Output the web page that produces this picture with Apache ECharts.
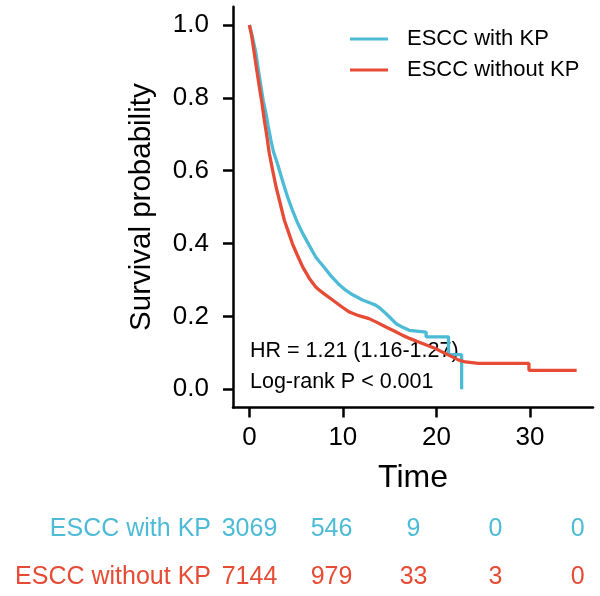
<!DOCTYPE html>
<html>
<head>
<meta charset="utf-8">
<script src="https://cdn.jsdelivr.net/npm/echarts@6/dist/echarts.min.js"></script>
<style>
html,body{margin:0;padding:0;background:#fff;}
#chart{width:600px;height:596px;}
</style>
</head>
<body>
<div id="chart"></div>
<script>
// ---- data ----
const groups = ['ESCC with KP', 'ESCC without KP'];
const groupColors = ['#4DBBD5', '#E64B35'];

const withTime = [0, 0.3, 0.71, 1.0, 1.25, 1.5, 1.78, 2.0, 2.3, 2.6, 3.0, 3.4, 3.74, 4.1, 4.6, 5.1, 5.7, 6.4, 7.1, 7.5, 8.0, 8.7, 9.5, 10.3, 11.0, 12.1, 13.0, 13.5, 14.0, 14.6, 15.2, 15.7, 16.4, 17.1, 18.9, 18.9, 21.3, 21.3, 22.7, 22.7];
const withSurv = [1.0, 0.97, 0.922, 0.87, 0.83, 0.79, 0.757, 0.725, 0.684, 0.65, 0.62, 0.585, 0.556, 0.527, 0.492, 0.46, 0.428, 0.395, 0.363, 0.35, 0.335, 0.312, 0.29, 0.272, 0.26, 0.245, 0.236, 0.231, 0.222, 0.208, 0.193, 0.18, 0.17, 0.162, 0.157, 0.144, 0.144, 0.095, 0.095, 0.0];

const withoutTime = [0, 0.25, 0.53, 0.8, 1.07, 1.35, 1.6, 1.9, 2.13, 2.5, 2.85, 3.3, 3.74, 4.2, 4.6, 5.1, 5.7, 6.4, 7.1, 7.5, 8.0, 8.9, 9.8, 10.7, 11.7, 12.8, 13.7, 14.6, 15.5, 16.4, 17.2, 18.1, 19.0, 19.9, 20.8, 21.7, 22.4, 23.1, 24.5, 29.9, 29.9, 35.0];
const withoutSurv = [1.0, 0.97, 0.922, 0.875, 0.83, 0.785, 0.739, 0.69, 0.648, 0.6, 0.556, 0.51, 0.464, 0.43, 0.4, 0.37, 0.336, 0.305, 0.281, 0.272, 0.262, 0.245, 0.228, 0.212, 0.202, 0.194, 0.183, 0.171, 0.16, 0.148, 0.139, 0.13, 0.121, 0.112, 0.1, 0.089, 0.08, 0.075, 0.071, 0.071, 0.052, 0.052];

const xTicks = [0, 10, 20, 30];
const yTicks = [0, 0.2, 0.4, 0.6, 0.8, 1.0];

const riskTimes = [0, 10, 20, 30, 40];
const riskWith = [3069, 546, 9, 0, 0];
const riskWithout = [7144, 979, 33, 3, 0];

const annotations = ['HR = 1.21 (1.16-1.27)', 'Log-rank P < 0.001'];

// ---- chart ----
const FONT = 'Liberation Sans, Arial, Helvetica, sans-serif';
const chart = echarts.init(document.getElementById('chart'), null, {renderer: 'canvas'});

const pairs = (xs, ys) => xs.map((x, i) => [x, ys[i]]);
const riskData = (counts, gi) => riskTimes.map((t, i) => [t, gi, counts[i]]);

const riskLabel = (color) => ({
  show: true, position: 'inside', formatter: p => String(p.value[2]),
  fontSize: 25, color: color, opacity: 1, fontFamily: FONT,
  textBorderWidth: 0, textBorderColor: 'transparent', textShadowBlur: 0
});

const option = {
  animation: false,
  backgroundColor: '#ffffff',
  textStyle: {fontFamily: FONT},
  grid: [
    {left: 233, right: 7, top: 6.8, bottom: 188.5, containLabel: false},
    {left: 229, right: 6, top: 529, bottom: 19, containLabel: false}
  ],
  legend: {
    orient: 'vertical',
    left: 350,
    top: 28,
    padding: 0,
    itemWidth: 38,
    itemHeight: 3,
    itemGap: 9,
    icon: 'rect',
    data: groups,
    textStyle: {fontSize: 22, color: '#000', fontFamily: FONT, padding: [0, 0, 0, 14]}
  },
  xAxis: [
    {
      type: 'value', gridIndex: 0, min: -1.75, max: 36.75,
      name: 'Time', nameLocation: 'middle', nameGap: 55,
      nameTextStyle: {fontSize: 32, color: '#000', fontFamily: FONT},
      axisLine: {show: true, onZero: false, lineStyle: {color: '#000', width: 2.5}},
      axisTick: {show: true, customValues: xTicks, length: 10, lineStyle: {color: '#000', width: 2.5}},
      axisLabel: {customValues: xTicks, margin: 17, fontSize: 26, color: '#000', fontFamily: FONT},
      splitLine: {show: false}
    },
    {
      type: 'value', gridIndex: 1, min: -2.5, max: 42, show: false
    }
  ],
  yAxis: [
    {
      type: 'value', gridIndex: 0, min: -0.05, max: 1.05,
      name: 'Survival probability', nameLocation: 'middle', nameGap: 76, nameRotate: 90,
      nameTextStyle: {fontSize: 29.5, color: '#000', fontFamily: FONT},
      axisLine: {show: true, onZero: false, lineStyle: {color: '#000', width: 2.5}},
      axisTick: {show: true, customValues: yTicks, length: 10, lineStyle: {color: '#000', width: 2.5}},
      axisLabel: {customValues: yTicks, margin: 24, fontSize: 26, color: '#000', fontFamily: FONT,
        formatter: v => Number(v).toFixed(1)},
      splitLine: {show: false}
    },
    {
      type: 'category', gridIndex: 1, data: groups, inverse: true, boundaryGap: false,
      axisLine: {show: false}, axisTick: {show: false}, splitLine: {show: false},
      axisLabel: {margin: 18, fontSize: 25, fontFamily: FONT,
        color: (v, i) => groupColors[groups.indexOf(v)]}
    }
  ],
  series: [
    {
      name: groups[0], type: 'line', xAxisIndex: 0, yAxisIndex: 0,
      data: pairs(withTime, withSurv), showSymbol: false, symbol: 'none',
      color: groupColors[0], lineStyle: {width: 3.3, color: groupColors[0]}, z: 2
    },
    {
      name: groups[1], type: 'line', xAxisIndex: 0, yAxisIndex: 0,
      data: pairs(withoutTime, withoutSurv), showSymbol: false, symbol: 'none',
      color: groupColors[1], lineStyle: {width: 3.3, color: groupColors[1]}, z: 3
    },
    {
      type: 'scatter', xAxisIndex: 1, yAxisIndex: 1, silent: true,
      data: riskData(riskWith, 0), symbolSize: 1, itemStyle: {color: groupColors[0], opacity: 0},
      label: riskLabel(groupColors[0])
    },
    {
      type: 'scatter', xAxisIndex: 1, yAxisIndex: 1, silent: true,
      data: riskData(riskWithout, 1), symbolSize: 1, itemStyle: {color: groupColors[1], opacity: 0},
      label: riskLabel(groupColors[1])
    }
  ],
  graphic: [
    {type: 'text', x: 250, y: 351.5, silent: true,
      style: {text: annotations[0], fontSize: 21.5, fontFamily: FONT, fill: '#000', verticalAlign: 'middle', align: 'left'}},
    {type: 'text', x: 250, y: 382.5, silent: true,
      style: {text: annotations[1], fontSize: 21.5, fontFamily: FONT, fill: '#000', verticalAlign: 'middle', align: 'left'}}
  ]
};
chart.setOption(option);
</script>
</body>
</html>
